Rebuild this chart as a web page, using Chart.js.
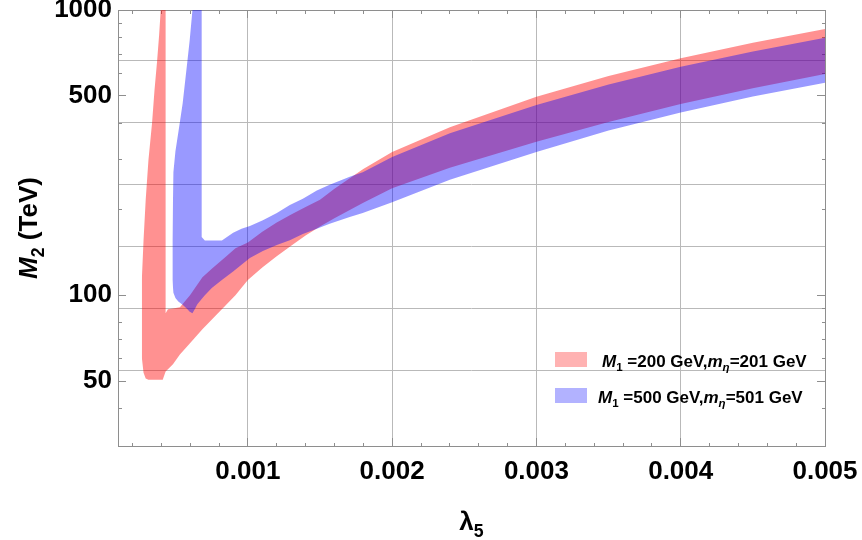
<!DOCTYPE html>
<html>
<head>
<meta charset="utf-8">
<script src="https://cdn.jsdelivr.net/npm/chart.js@4.4.1/dist/chart.umd.min.js"></script>
<style>
  html, body { margin: 0; padding: 0; background: #fff; }
  #wrap { width: 862px; height: 540px; }
</style>
</head>
<body>
<div id="wrap"><canvas id="chart" width="862" height="540"></canvas></div>
<script>
// region M1=200 GeV (red): lower and upper edge of M2 (TeV) against lambda5
let redX = [0.000265, 0.000277, 0.000292, 0.000311, 0.000336, 0.000353, 0.000371, 0.000385, 0.000396, 0.00041, 0.00043,
  0.00043, 0.000446, 0.000481, 0.000529, 0.000599, 0.000685, 0.000754, 0.000845, 0.000914, 0.001,
  0.0011, 0.0012, 0.0013, 0.0014, 0.0015, 0.0016, 0.0018, 0.002, 0.0024, 0.003, 0.0035, 0.004, 0.0045, 0.005]
let redUpper = [113, 156, 216, 298, 402, 524, 662, 817, 1000, 1200, 1200,
  86.5, 89.3, 89.8, 90.8, 100, 115.6, 124.4, 136, 146, 153,
  167, 180, 192, 204, 216, 236, 277, 318, 388, 496, 587, 677, 768, 858]
let redLower = [60.6, 53.5, 51, 50.5, 50.5, 50.5, 50.5, 50.5, 50.5, 50.5, 54,
  54, 55, 57.3, 62, 67.8, 76, 82.6, 92, 100, 113,
  125, 137, 149, 162, 174, 186, 211, 237, 280, 345, 405, 468, 532, 596]

// region M1=500 GeV (blue)
let blueX = [0.000477, 0.000484, 0.000498, 0.000518, 0.000548, 0.000581, 0.000597, 0.000616, 0.00063, 0.00065,
  0.00068, 0.00068, 0.000702, 0.00075, 0.00082, 0.000898, 0.000956, 0.001014, 0.001104, 0.001201,
  0.001291, 0.001381, 0.001478, 0.001567, 0.001706, 0.001796, 0.002, 0.0024, 0.003, 0.0035, 0.004, 0.0045, 0.005]
let blueUpper = [156, 270, 320, 372, 470, 662, 785, 1000, 1200, 1200,
  1200, 160, 155.5, 155.5, 155.5, 165.5, 171, 175, 183, 194,
  207, 218, 233, 244, 260, 270, 305, 370, 464, 548, 632, 716, 800]
let blueLower = [113, 102, 97.7, 95, 92.5, 89.3, 87.5, 86.5, 89, 93,
  97, 97, 100, 106, 113, 121, 128, 135, 143, 150,
  156, 164, 171, 178, 188, 194, 212, 254, 318, 378, 437, 497, 556]

// ticks
let xMajorTicks = [0.001, 0.002, 0.003, 0.004, 0.005]
let xMinorTicks = [0.0002, 0.0004, 0.0006, 0.0008, 0.0012, 0.0014, 0.0016, 0.0018, 0.0022, 0.0024,
  0.0026, 0.0028, 0.0032, 0.0034, 0.0036, 0.0038, 0.0042, 0.0044, 0.0046, 0.0048]
let yMajorTicks = [50, 100, 500, 1000]
let yMinorTicks = [40, 60, 70, 80, 90, 200, 300, 400, 600, 700, 800, 900]
let yGridLn = [4, 4.5, 5, 5.5, 6, 6.5] // grid lines sit at e^n

let legendLabels = [
  [["M", "i"], ["1", "sub"], [" =200 GeV,", ""], ["m", "i"], ["η", "isub"], ["=201 GeV", ""]],
  [["M", "i"], ["1", "sub"], [" =500 GeV,", ""], ["m", "i"], ["η", "isub"], ["=501 GeV", ""]],
]

const FONT = "'Liberation Sans', Arial, Helvetica, sans-serif"
const frameColor = "#8e8e8e"
const gridColor = "#b9b9b9"
const redFill = "rgba(255, 0, 0, 0.43)"
const blueFill = "rgba(0, 0, 255, 0.4)"
const redSwatch = "rgba(255, 0, 0, 0.3)"
const blueSwatch = "rgba(0, 0, 255, 0.3)"

const allXTicks = xMinorTicks.concat(xMajorTicks).sort((a, b) => a - b)
const allYTicks = yMinorTicks.concat(yMajorTicks).sort((a, b) => a - b)

function setTicks(values) {
  return scale => { scale.ticks = values.map(v => ({ value: v })) }
}
function fixSize(size) {
  return scale => {
    if (scale.isHorizontal()) scale.height = size
    else scale.width = size
    scale.paddingLeft = scale.paddingRight = scale.paddingTop = scale.paddingBottom = 0
  }
}
const isMajorX = c => c.tick && xMajorTicks.includes(c.tick.value)
const isMajorY = c => c.tick && yMajorTicks.includes(c.tick.value)
// ticks go inward; short minor ticks are made with a dash pattern
const dashOut = major => c => major(c) ? [] : [4, 40]
const dashIn = major => c => major(c) ? [] : [0, 4, 4, 40]

const pts = (xs, ys) => xs.map((x, i) => ({ x: x, y: ys[i] }))

function band(data, color, fill) {
  return {
    data: data,
    fill: fill,
    backgroundColor: color,
    borderColor: "rgba(0,0,0,0)",
    borderWidth: 1,
    pointRadius: 0,
    tension: 0,
    xAxisID: "x",
    yAxisID: "y",
  }
}

function fontStr(kind, size) {
  let style = kind.includes("i") ? "italic " : ""
  return style + "bold " + size + "px " + FONT
}

function drawRich(ctx, parts, x, y, size, align) {
  let widths = parts.map(p => {
    ctx.font = fontStr(p[1], p[1].includes("sub") ? size * 0.68 : size)
    return ctx.measureText(p[0]).width
  })
  let total = widths.reduce((a, b) => a + b, 0)
  let cx = align === "center" ? x - total / 2 : x
  parts.forEach((p, i) => {
    let sub = p[1].includes("sub")
    ctx.font = fontStr(p[1], sub ? size * 0.68 : size)
    ctx.fillText(p[0], cx, y + (sub ? size * 0.25 : 0))
    cx += widths[i]
  })
}

const textPlugin = {
  id: "textPlugin",
  afterDraw(chart) {
    let ctx = chart.ctx
    let area = chart.chartArea
    ctx.save()
    ctx.fillStyle = "#000"
    ctx.textBaseline = "alphabetic"
    ctx.textAlign = "left"

    // y title
    ctx.save()
    ctx.translate(37, (area.top + area.bottom) / 2)
    ctx.rotate(-Math.PI / 2)
    drawRich(ctx, [["M", "i"], ["2", "sub"], [" (TeV)", ""]], 0, 0, 26, "center")
    ctx.restore()

    // x title
    drawRich(ctx, [["λ", ""], ["5", "sub"]], (area.left + area.right) / 2, 530, 26, "center")

    // legend
    let swX = area.right - 270
    let rows = [area.bottom - 94, area.bottom - 58]
    let textX = [area.right - 223, area.right - 227]
    let colors = [redSwatch, blueSwatch]
    rows.forEach((ry, i) => {
      ctx.fillStyle = colors[i]
      ctx.fillRect(swX, ry, 32, 15)
      ctx.fillStyle = "#000"
      drawRich(ctx, legendLabels[i], textX[i], ry + 15, 17, "left")
    })
    ctx.restore()
  },
}

const tickFont = { family: FONT, size: 26, weight: "bold" }

new Chart(document.getElementById("chart").getContext("2d"), {
  type: "line",
  data: {
    datasets: [
      band(pts(blueX, blueUpper), blueFill, "+1"),
      band(pts(blueX, blueLower), blueFill, false),
      band(pts(redX, redUpper), redFill, "+1"),
      band(pts(redX, redLower), redFill, false),
    ],
  },
  options: {
    responsive: false,
    devicePixelRatio: 1,
    animation: false,
    events: [],
    layout: { padding: { left: 0, right: 37, top: 10, bottom: 0 } },
    plugins: { legend: { display: false }, tooltip: { enabled: false } },
    scales: {
      x: {
        type: "linear",
        position: "bottom",
        min: 0.0001,
        max: 0.005,
        afterBuildTicks: setTicks(allXTicks),
        afterFit: fixSize(94),
        ticks: {
          autoSkip: false,
          maxRotation: 0,
          minRotation: 0,
          padding: 18,
          color: "#000",
          font: tickFont,
          callback: v => xMajorTicks.includes(v) ? v.toFixed(3) : "",
        },
        grid: {
          color: c => isMajorX(c) ? gridColor : "rgba(0,0,0,0)",
          tickColor: frameColor,
          tickLength: -8,
          tickBorderDash: dashOut(isMajorX),
        },
        border: { color: frameColor },
      },
      xTop: {
        type: "linear",
        position: "top",
        min: 0.0001,
        max: 0.005,
        afterBuildTicks: setTicks(allXTicks),
        afterFit: fixSize(0),
        ticks: { display: false },
        grid: {
          drawOnChartArea: false,
          tickColor: frameColor,
          tickLength: -8,
          tickBorderDash: dashIn(isMajorX),
        },
        border: { color: frameColor },
      },
      y: {
        type: "logarithmic",
        position: "left",
        weight: 10,
        min: 29.6,
        max: 1000,
        afterBuildTicks: setTicks(allYTicks),
        afterFit: fixSize(118),
        ticks: {
          autoSkip: false,
          padding: 14,
          color: "#000",
          font: tickFont,
          callback: v => yMajorTicks.includes(v) ? String(v) : "",
        },
        grid: {
          drawOnChartArea: false,
          tickColor: frameColor,
          tickLength: -8,
          tickBorderDash: dashIn(isMajorY),
        },
        border: { color: frameColor },
      },
      yGrid: {
        type: "logarithmic",
        position: "left",
        weight: 0,
        min: 29.6,
        max: 1000,
        afterBuildTicks: setTicks(yGridLn.map(n => Math.exp(n))),
        afterFit: fixSize(0),
        ticks: { display: false },
        grid: { color: gridColor, drawTicks: false },
        border: { display: false },
      },
      yRight: {
        type: "logarithmic",
        position: "right",
        min: 29.6,
        max: 1000,
        afterBuildTicks: setTicks(allYTicks),
        afterFit: fixSize(0),
        ticks: { display: false },
        grid: {
          drawOnChartArea: false,
          tickColor: frameColor,
          tickLength: -8,
          tickBorderDash: dashOut(isMajorY),
        },
        border: { color: frameColor },
      },
    },
  },
  plugins: [textPlugin],
})
</script>
</body>
</html>
